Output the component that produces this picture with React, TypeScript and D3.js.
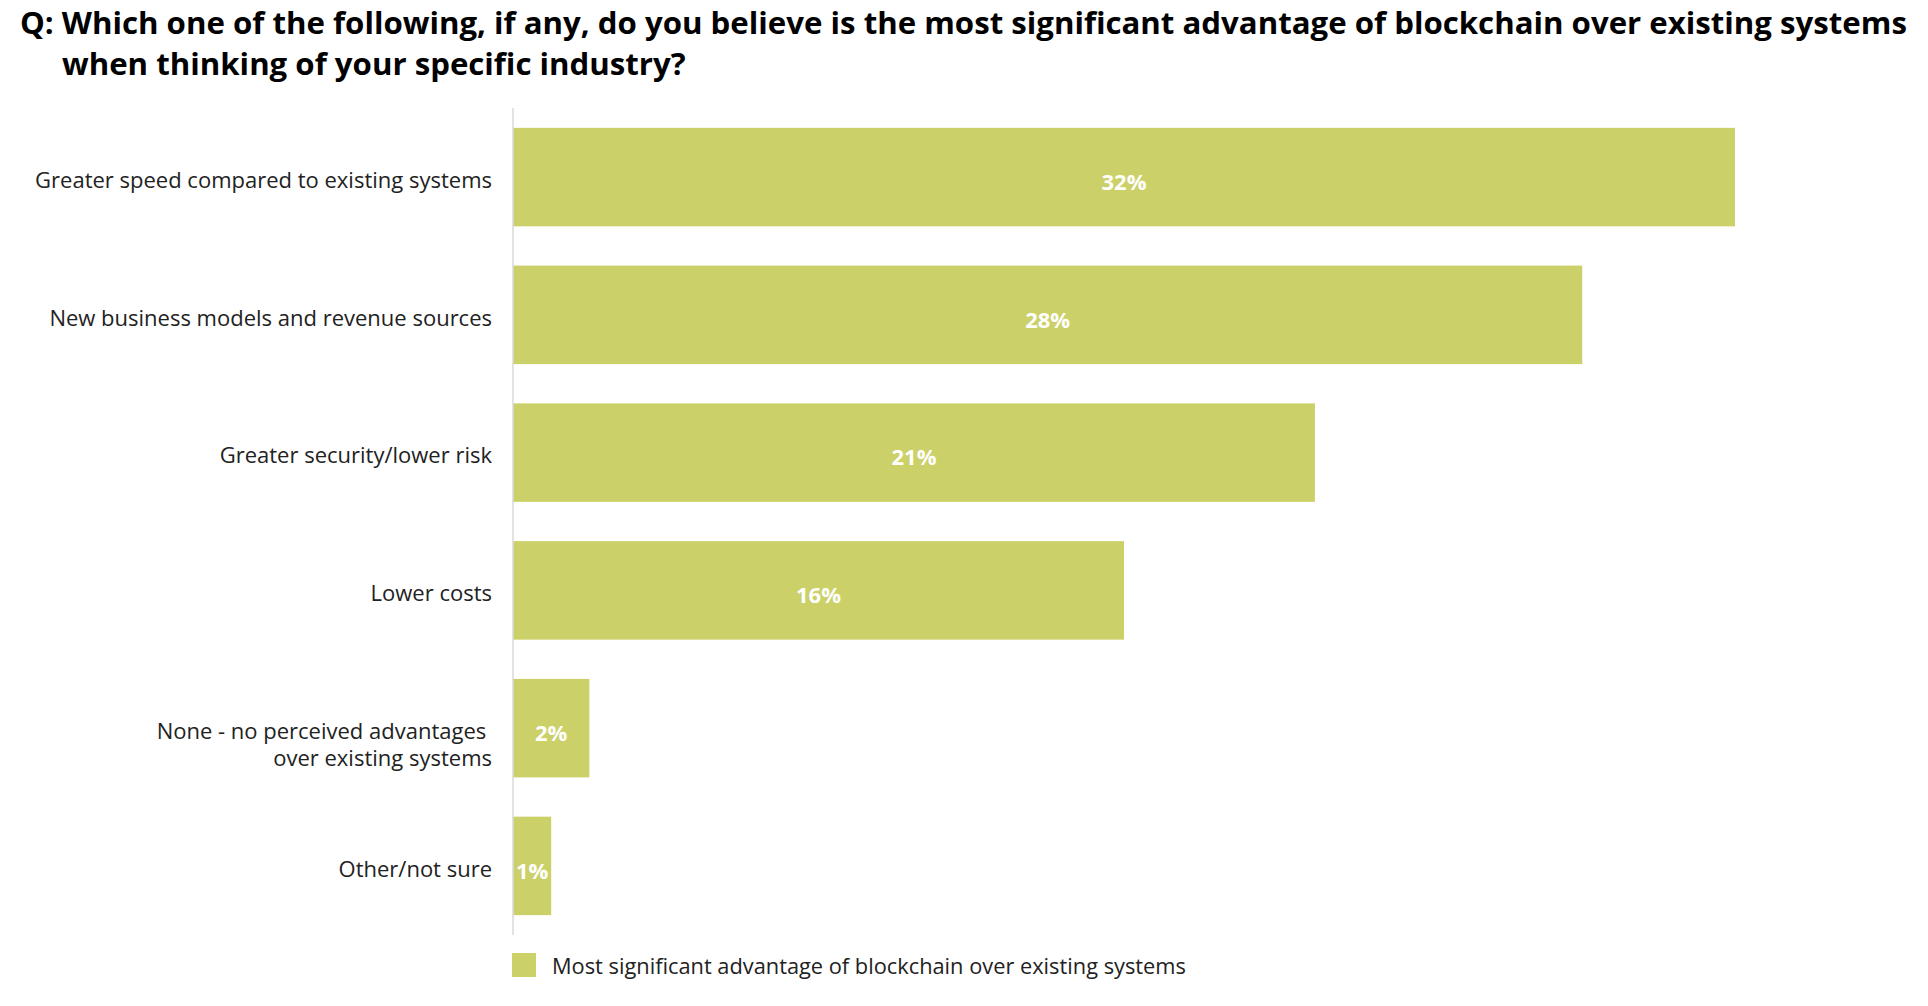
import React, { useRef, useEffect } from "react";
import * as d3 from "d3";

const WIDTH = 1928;
const HEIGHT = 1006;
const FONT = "'Open Sans', 'Noto Sans', sans-serif";
const BAR_COLOR = "#cbd168";

const titleLines = [
  "Q: Which one of the following, if any, do you believe is the most significant advantage of blockchain over existing systems",
  "when thinking of your specific industry?",
];

const categories = [
  ["Greater speed compared to existing systems"],
  ["New business models and revenue sources"],
  ["Greater security/lower risk"],
  ["Lower costs"],
  ["None - no perceived advantages\u00a0", "over existing systems"],
  ["Other/not sure"],
];
const values = [32, 28, 21, 16, 2, 1];
const legendLabel = "Most significant advantage of blockchain over existing systems";

export default function App() {
  const svgRef = useRef<SVGSVGElement | null>(null);

  useEffect(() => {
    const svg = d3.select(svgRef.current);
    svg.selectAll("*").remove();

    const keys = categories.map((c) => c.join(" "));
    const x = d3.scaleLinear().domain([0, 32]).range([513, 1735]);
    const y = d3
      .scaleBand<string>()
      .domain(keys)
      .range([108, 935])
      .paddingInner(0.285)
      .paddingOuter(0.144);

    // Title
    const title = svg
      .append("text")
      .attr("font-family", FONT)
      .attr("font-weight", 700)
      .attr("font-size", 31.2)
      .attr("fill", "#000");
    title.append("tspan").attr("x", 20).attr("y", 34).text(titleLines[0]);
    title.append("tspan").attr("x", 62).attr("y", 75).text(titleLines[1]);

    // Bars
    svg
      .append("g")
      .selectAll("rect")
      .data(values)
      .join("rect")
      .attr("x", x(0))
      .attr("y", (_, i) => y(keys[i])!)
      .attr("width", (d) => x(d) - x(0))
      .attr("height", y.bandwidth())
      .attr("fill", BAR_COLOR);

    // Axis line
    svg
      .append("line")
      .attr("x1", x(0))
      .attr("x2", x(0))
      .attr("y1", 108)
      .attr("y2", 935)
      .attr("stroke", "#d9d9d9")
      .attr("stroke-width", 1.5);

    // Value labels
    svg
      .append("g")
      .selectAll("text")
      .data(values)
      .join("text")
      .attr("x", (d) => (x(0) + x(d)) / 2)
      .attr("y", (_, i) => y(keys[i])! + y.bandwidth() / 2 + 5)
      .attr("dy", "0.35em")
      .attr("text-anchor", "middle")
      .attr("font-family", FONT)
      .attr("font-weight", 700)
      .attr("font-size", 22)
      .attr("fill", "#fff")
      .text((d) => `${d}%`);

    // Category labels
    const labels = svg
      .append("g")
      .selectAll("text")
      .data(categories)
      .join("text")
      .attr("text-anchor", "end")
      .attr("font-family", FONT)
      .attr("font-size", 22)
      .attr("fill", "#222");
    labels.each(function (lines, i) {
      const cy = y(keys[i])! + y.bandwidth() / 2 + 3;
      lines.forEach((l, j) => {
        d3.select(this)
          .append("tspan")
          .attr("x", 492)
          .attr("y", cy + j * 27)
          .attr("dy", "0.35em")
          .text(l);
      });
    });

    // Legend
    svg
      .append("rect")
      .attr("x", 512)
      .attr("y", 953)
      .attr("width", 24)
      .attr("height", 24)
      .attr("fill", BAR_COLOR);
    svg
      .append("text")
      .attr("x", 552)
      .attr("y", 966)
      .attr("dy", "0.35em")
      .attr("font-family", FONT)
      .attr("font-size", 21.8)
      .attr("fill", "#222")
      .text(legendLabel);
  }, []);

  return (
    <svg
      ref={svgRef}
      width={WIDTH}
      height={HEIGHT}
      style={{ position: "absolute", left: 0, top: 0, background: "#fff" }}
    />
  );
}
